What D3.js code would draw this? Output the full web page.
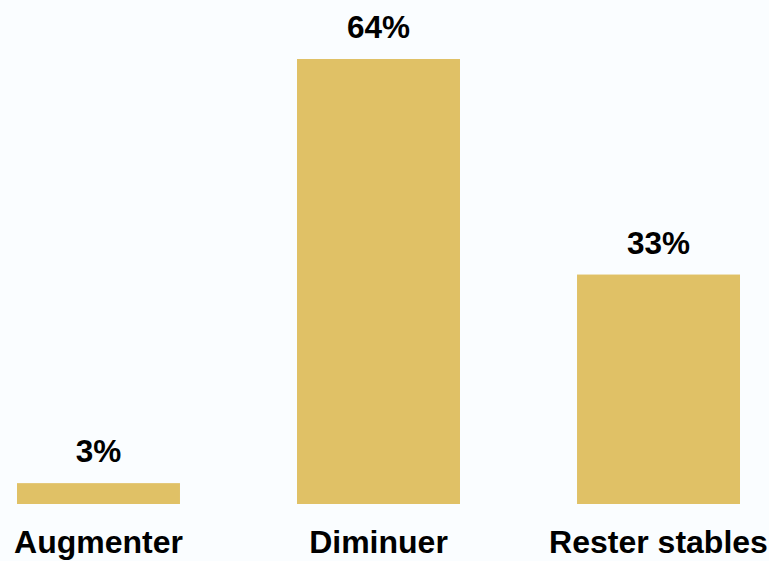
<!DOCTYPE html>
<html><head><meta charset="utf-8">
<script src="https://cdn.jsdelivr.net/npm/d3@7"></script>
<style>html,body{margin:0;padding:0;background:#fafdff;}svg{display:block;}</style>
</head><body>
<script>
const categories = ["Augmenter", "Diminuer", "Rester stables"];
const values = [3, 64, 33];
const valueLabels = ["3%", "64%", "33%"];

const W = 769, H = 561;
const svg = d3.select("body").append("svg").attr("width", W).attr("height", H);
svg.append("rect").attr("width", W).attr("height", H).attr("fill", "#fafdff");

const x = d3.scaleBand().domain(categories).range([17, 740]).paddingInner(0.418).paddingOuter(0);
const y = d3.scaleLinear().domain([0, 64]).range([504, 59]);

const g = svg.append("g");
g.selectAll("rect.bar").data(values).join("rect")
  .attr("class", "bar")
  .attr("x", (d, i) => x(categories[i]))
  .attr("y", d => y(d))
  .attr("width", x.bandwidth())
  .attr("height", d => y(0) - y(d))
  .attr("fill", "#e0c166");

g.selectAll("text.val").data(values).join("text")
  .attr("class", "val")
  .attr("x", (d, i) => x(categories[i]) + x.bandwidth() / 2)
  .attr("y", d => y(d) - 21)
  .attr("text-anchor", "middle")
  .attr("font-family", "Liberation Sans, Arial, sans-serif")
  .attr("font-weight", "bold")
  .attr("font-size", 31.5)
  .attr("fill", "#000")
  .text((d, i) => valueLabels[i]);

const xAxis = d3.axisBottom(x).tickSize(0).tickPadding(0);
const ax = svg.append("g").attr("transform", "translate(0,553)").call(xAxis);
ax.select(".domain").remove();
ax.selectAll("text")
  .attr("dy", 0)
  .attr("y", 0)
  .attr("font-family", "Liberation Sans, Arial, sans-serif")
  .attr("font-weight", "bold")
  .attr("font-size", 32)
  .attr("fill", "#000");
</script>
</body></html>
